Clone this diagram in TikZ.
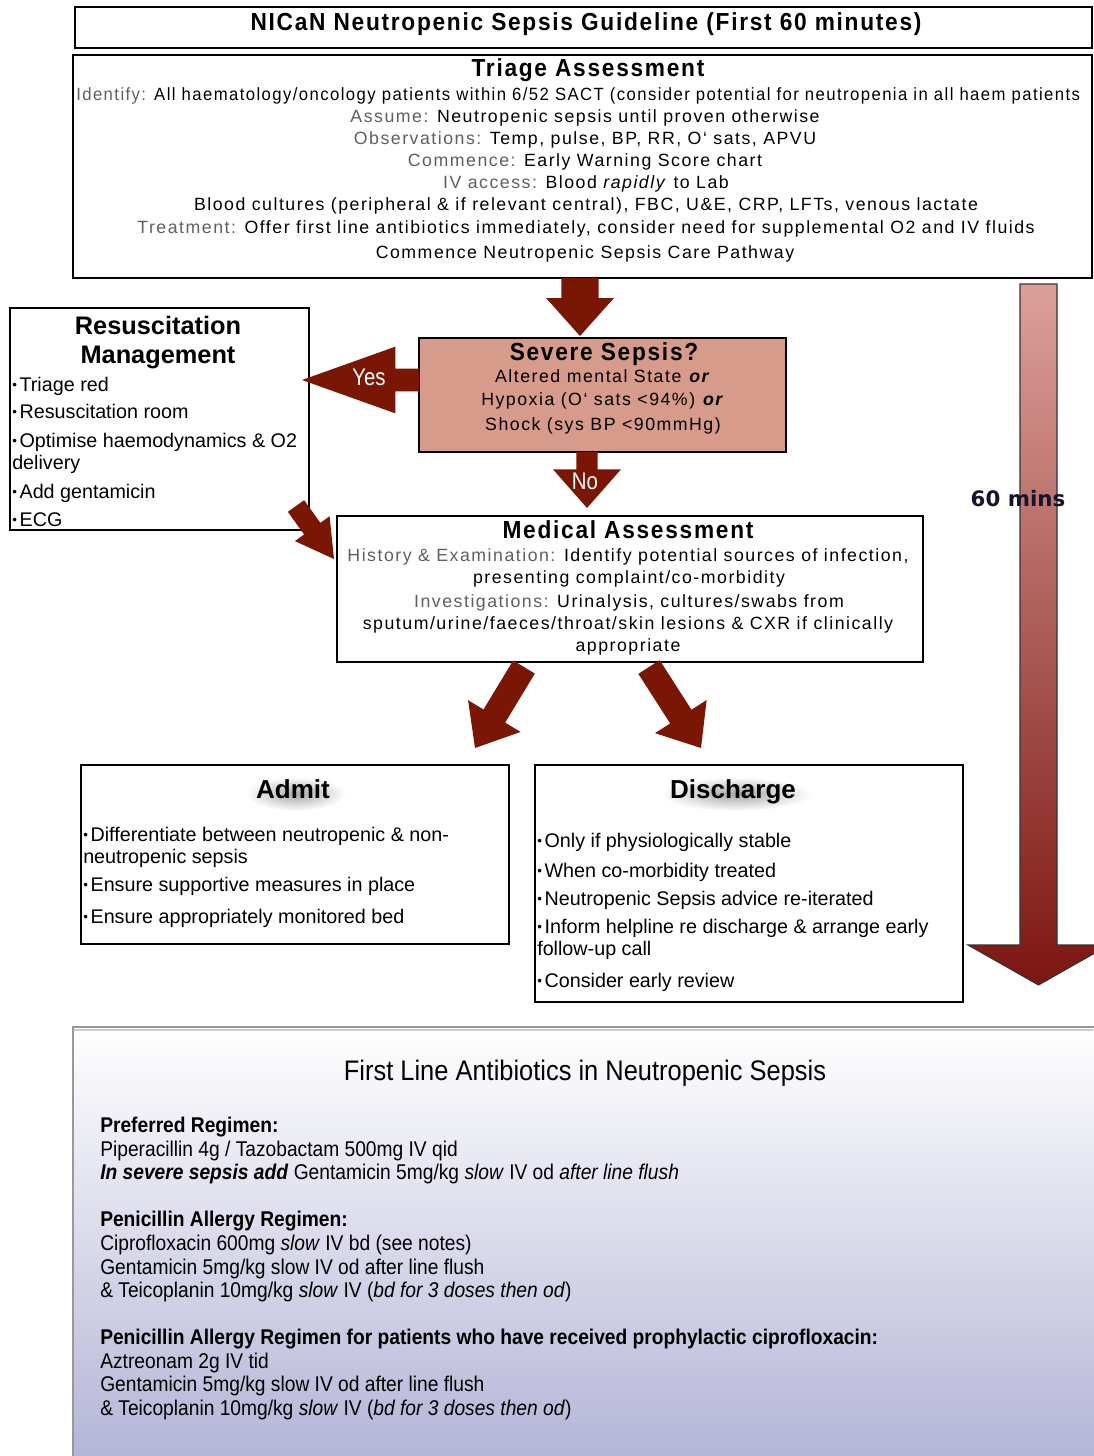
\documentclass[tikz,border=0pt]{standalone}
\usepackage{fontspec}
\setmainfont{Liberation Sans}
\newfontfamily\ttlfont{Liberation Sans}[FakeStretch=0.92, LetterSpace=7]
\newfontfamily\bodyfont{Liberation Sans}[LetterSpace=8.5]
\newfontfamily\narrowfont{Liberation Sans}[FakeStretch=0.85]
\newfontfamily\condfont{Liberation Sans}[FakeStretch=0.9]
\newfontfamily\verdfont{DejaVu Sans}
\usetikzlibrary{calc,fit,fadings}
\definecolor{arrowred}{RGB}{122,22,4}
\definecolor{salmon}{RGB}{214,155,138}
\definecolor{labgray}{RGB}{95,95,95}
\definecolor{lav}{RGB}{178,178,214}
\definecolor{gtop}{RGB}{220,160,154}
\definecolor{gbot}{RGB}{124,22,18}
\definecolor{navy}{RGB}{20,20,45}
\tikzfading[name=glowfade, inner color=transparent!0, outer color=transparent!100]
\newcommand{\lab}[1]{\textcolor{labgray}{#1}}
\newcommand{\bul}{{\fontsize{10}{10}\selectfont\raisebox{0.8pt}{•}}\hspace{2pt}}
% fat arrow: #2 tail, #3 tip, #4 shaft half width, #5 head half width, #6 head length
\newcommand{\fatarrow}[6][arrowred]{%
  \path coordinate (fa-h) at ($(#3)!#6!(#2)$);
  \fill[#1] ($(#2)!#4!90:(#3)$) -- ($(fa-h)!#4!90:(#3)$) -- ($(fa-h)!#5!90:(#3)$) -- (#3)
    -- ($(fa-h)!#5!-90:(#3)$) -- ($(fa-h)!#4!-90:(#3)$) -- ($(#2)!#4!-90:(#3)$) -- cycle;}
\tikzset{
  box/.style={draw=black, line width=1pt, inner sep=0pt},
  ttl/.style={font=\ttlfont\bfseries\fontsize{18.5}{22}\selectfont, anchor=base, inner sep=0pt},
  body/.style={font=\bodyfont\fontsize{13.3}{16}\selectfont, anchor=base, inner sep=0pt},
  bull/.style={font=\fontsize{14.8}{17}\selectfont, anchor=base west, inner sep=0pt},
  hdr/.style={font=\bfseries\fontsize{19.5}{23}\selectfont, anchor=base, inner sep=0pt},
  abx/.style={font=\condfont\fontsize{16}{19}\selectfont, anchor=base west, inner sep=0pt},
  wlab/.style={font=\narrowfont\fontsize{18}{20}\selectfont, text=white, anchor=base, inner sep=0pt},
  glow/.style={fill=black, fill opacity=0.35, path fading=glowfade}
}
\begin{document}
\begin{tikzpicture}[x=0.75pt,y=-0.75pt]
\useasboundingbox (0,0) rectangle (1093,1456);
\fill[white] (0,0) rectangle (1093,1456);

% ---------- boxes ----------
\node[box, fit={(75,7) (1092,48)}] (titlebox) {};
\node[box, fit={(73,55) (1092,278)}] (triage) {};
\node[box, fill=salmon, fit={(419,338) (786,452)}] (severe) {};
\node[box, fit={(10,308) (309,530)}] (resus) {};
\node[box, fit={(337,516) (923,662)}] (medical) {};
\node[box, fit={(81,765) (509,944)}] (admit) {};
\node[box, fit={(535,765) (963,1002)}] (discharge) {};

% ---------- 60 mins arrow ----------
\draw[draw=black!80, line width=0.8pt, top color=gtop, bottom color=gbot]
  (1020,284) -- (1057,284) -- (1057,945) -- (1109,945) -- (1038.5,985) -- (968,945) -- (1020,945) -- cycle;
\node[font=\verdfont\bfseries\fontsize{16}{18}\selectfont, text=navy, anchor=base, inner sep=0pt] (mins) at (1018,506) {60 mins};

% ---------- antibiotics box ----------
\node[draw=black!40, line width=1.6pt, top color=white, bottom color=lav, inner sep=0pt,
      fit={(73,1027) (1100,1470)}] (abxbox) {};
\draw[black!20, line width=2pt] (74,1030) -- (1093,1030);

% ---------- arrows ----------
\coordinate (a1t) at (580,278); \coordinate (a1h) at (580,336);
\fatarrow{a1t}{a1h}{13.9pt}{25.5pt}{28.5pt}
\coordinate (ayt) at (419,380); \coordinate (ayh) at (302,380);
\fatarrow{ayt}{ayh}{8.5pt}{25pt}{70pt}
\coordinate (ant) at (587,452); \coordinate (anh) at (587,508);
\fatarrow{ant}{anh}{8pt}{25.5pt}{29pt}
\coordinate (art) at (296,506); \coordinate (arh) at (334,559);
\fatarrow{art}{arh}{7.5pt}{16pt}{28pt}
\coordinate (alt) at (524,667); \coordinate (alh) at (475,748);
\fatarrow{alt}{alh}{9.5pt}{23pt}{28pt}
\coordinate (abt) at (649,667); \coordinate (abh) at (701,748);
\fatarrow{abt}{abh}{9.5pt}{23pt}{28pt}
\node[wlab] (yes) at (369,385) {Yes};
\node[wlab] (no) at (585,489) {No};

% ---------- title ----------
\node[ttl] (title) at (586,31) {NICaN Neutropenic Sepsis Guideline (First 60 minutes)};

% ---------- triage ----------
\node[ttl] (tri0) at (588,76) {Triage Assessment};
\node[body, anchor=base west] (tri1) at (76,100) {\scalebox{0.942}[1]{\lab{Identify:} All haematology/oncology patients within 6/52 SACT (consider potential for neutropenia in all haem patients}};
\node[body] (tri2) at (585,122) {\lab{Assume:} Neutropenic sepsis until proven otherwise};
\node[body] (tri3) at (585,144) {\lab{Observations:} Temp, pulse, BP, RR, O‘ sats, APVU};
\node[body] (tri4) at (585,166) {\lab{Commence:} Early Warning Score chart};
\node[body] (tri5) at (586,188) {\lab{IV access:} Blood \textit{rapidly} to Lab};
\node[body] (tri6) at (586,210) {Blood cultures (peripheral \& if relevant central), FBC, U\&E, CRP, LFTs, venous lactate};
\node[body] (tri7) at (586,233) {\lab{Treatment:} Offer first line antibiotics immediately, consider need for supplemental O2 and IV fluids};
\node[body] (tri8) at (585,258) {Commence Neutropenic Sepsis Care Pathway};

% ---------- severe ----------
\node[ttl] (sev0) at (604,360) {Severe Sepsis?};
\node[body] (sev1) at (603,382) {Altered mental State \textbf{\textit{or}}};
\node[body] (sev2) at (603,405) {Hypoxia (O‘ sats <94\%) \textbf{\textit{or}}};
\node[body] (sev3) at (603,430) {Shock (sys BP <90mmHg)};

% ---------- resuscitation ----------
\node[hdr, font=\bfseries\fontsize{19}{23}\selectfont] (res0) at (158,334) {Resuscitation};
\node[hdr, font=\bfseries\fontsize{19}{23}\selectfont] (res00) at (158,363) {Management};
\node[bull] (res1) at (12,391) {\bul Triage red};
\node[bull] (res2) at (12,418) {\bul Resuscitation room};
\node[bull] (res3) at (12,447) {\bul Optimise haemodynamics \& O2};
\node[bull] (res3b) at (12,469) {delivery};
\node[bull] (res4) at (12,498) {\bul Add gentamicin};
\node[bull] (res5) at (12,526) {\bul ECG};

% ---------- medical ----------
\node[ttl] (med0) at (628,538) {Medical Assessment};
\node[body] (med1) at (628,561) {\lab{History \& Examination:} Identify potential sources of infection,};
\node[body] (med2) at (629,583) {presenting complaint/co-morbidity};
\node[body] (med3) at (629,607) {\lab{Investigations:} Urinalysis, cultures/swabs from};
\node[body] (med4) at (628,629) {sputum/urine/faeces/throat/skin lesions \& CXR if clinically};
\node[body] (med5) at (628,651) {appropriate};

% ---------- admit ----------
\fill[glow] (296,794) ellipse [x radius=50, y radius=17];
\node[hdr] (ad0) at (293,798) {Admit};
\node[bull] (ad1) at (83,841) {\bul Differentiate between neutropenic \& non-};
\node[bull] (ad1b) at (83,863) {neutropenic sepsis};
\node[bull] (ad2) at (83,891) {\bul Ensure supportive measures in place};
\node[bull] (ad3) at (83,923) {\bul Ensure appropriately monitored bed};

% ---------- discharge ----------
\fill[glow] (736,794) ellipse [x radius=75, y radius=17];
\node[hdr] (dis0) at (733,798) {Discharge};
\node[bull] (dis1) at (537,847) {\bul Only if physiologically stable};
\node[bull] (dis2) at (537,877) {\bul When co-morbidity treated};
\node[bull] (dis3) at (537,905) {\bul Neutropenic Sepsis advice re-iterated};
\node[bull] (dis4) at (537,933) {\bul Inform helpline re discharge \& arrange early};
\node[bull] (dis4b) at (537,955) {follow-up call};
\node[bull] (dis5) at (537,987) {\bul Consider early review};

% ---------- antibiotics ----------
\node[font=\condfont\fontsize{21.2}{25}\selectfont, anchor=base, inner sep=0pt] (abx0) at (585,1080) {First Line Antibiotics in Neutropenic Sepsis};
\node[abx] (abx1) at (100,1132) {\textbf{Preferred Regimen:}};
\node[abx] (abx2) at (100,1156) {Piperacillin 4g / Tazobactam 500mg IV qid};
\node[abx] (abx3) at (100,1179) {\textbf{\textit{In severe sepsis add}} Gentamicin 5mg/kg \textit{slow} IV od \textit{after line flush}};
\node[abx] (abx4) at (100,1226) {\textbf{Penicillin Allergy Regimen:}};
\node[abx] (abx5) at (100,1250) {Ciprofloxacin 600mg \textit{slow} IV bd (see notes)};
\node[abx] (abx6) at (100,1274) {Gentamicin 5mg/kg slow IV od after line flush};
\node[abx] (abx7) at (100,1297) {\& Teicoplanin 10mg/kg \textit{slow} IV (\textit{bd for 3 doses then od})};
\node[abx] (abx8) at (100,1344) {\textbf{Penicillin Allergy Regimen for patients who have received prophylactic ciprofloxacin:}};
\node[abx] (abx9) at (100,1368) {Aztreonam 2g IV tid};
\node[abx] (abx10) at (100,1391) {Gentamicin 5mg/kg slow IV od after line flush};
\node[abx] (abx11) at (100,1415) {\& Teicoplanin 10mg/kg \textit{slow} IV (\textit{bd for 3 doses then od})};
\end{tikzpicture}
\end{document}
